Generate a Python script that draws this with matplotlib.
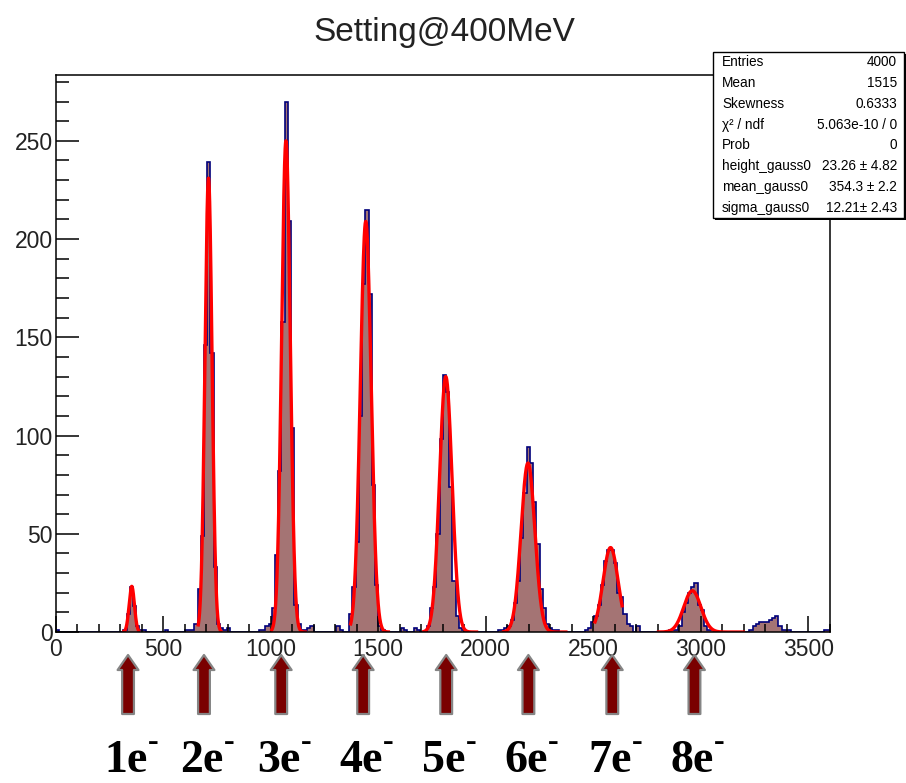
import numpy as np
import matplotlib.pyplot as plt
from matplotlib import transforms
from matplotlib.patches import Rectangle
from matplotlib.ticker import MultipleLocator

plt.rcParams['font.family'] = ['Liberation Sans', 'DejaVu Sans']

# --- histogram contents (15 ADC units per bin, 0..3600) ---
bin_width = 15
x_max = 3600

bkg_start = [0, 405, 510]
bkg_counts = [1, 1, 1]

p1_start, p1_counts = 315, [1, 9, 23, 13, 3, 1]
p2_start, p2_counts = 600, [1, 1, 1, 4, 22, 49, 146, 239, 142, 33, 4, 2, 1, 2]
p3_start, p3_counts = 945, [1, 1, 3, 4, 12, 39, 82, 158, 270, 209, 104, 14, 4, 1, 1, 2, 3]
p4_start, p4_counts = 1305, [3, 1, 0, 0, 9, 23, 46, 110, 177, 215, 172, 75, 24, 3, 1]
p5_start, p5_counts = 1605, [2, 1, 0, 0, 2, 1, 0, 0, 3, 12, 23, 50, 98, 131, 122, 74, 26, 8, 2, 1]
p6_start, p6_counts = 2055, [1, 1, 2, 3, 6, 15, 26, 48, 71, 94, 86, 66, 45, 22, 12, 4, 2, 1, 1]
p7_start, p7_counts = 2460, [1, 2, 5, 8, 14, 24, 36, 42, 42, 35, 20, 18, 9, 4, 3, 0, 3]
p8_start, p8_counts = 2850, [1, 1, 1, 3, 10, 15, 20, 23, 25, 14, 11, 3, 1, 1]
p9_start, p9_counts = 3225, [1, 3, 4, 5, 5, 5, 6, 7, 8, 3, 1, 1, 1]
p10_start, p10_counts = 3570, [1, 1]

# gaussian fits per photo-electron peak
fit_height = [23.26, 231, 250, 209, 130, 86, 43, 21]
fit_mean = [354.3, 711, 1071, 1442, 1814, 2196, 2580, 2960]
fit_sigma = [12.21, 16.5, 20, 25, 29, 32, 35, 40]
fit_lo = [310, 662, 1000, 1370, 1705, 2075, 2505, 2795]
fit_hi = [392, 775, 1168, 1555, 1965, 2380, 2635, 3205]

# arrow positions and labels under the axis
arrow_x = [337, 690, 1049, 1430, 1816, 2198, 2588, 2970]
labels = ['1', '2', '3', '4', '5', '6', '7', '8']

stat_names = ['Entries', 'Mean', 'Skewness', 'χ² / ndf', 'Prob',
              'height_gauss0', 'mean_gauss0', 'sigma_gauss0']
stat_values = ['4000', '1515', '0.6333', '5.063e-10 / 0', '0',
               '23.26 ± 4.82', '354.3 ± 2.2', '12.21± 2.43']

edges = np.arange(0, x_max + bin_width, bin_width)
counts = np.zeros(len(edges) - 1)
for s, c in zip(bkg_start, bkg_counts):
    counts[s // bin_width] += c
for s, seg in [(p1_start, p1_counts), (p2_start, p2_counts), (p3_start, p3_counts),
               (p4_start, p4_counts), (p5_start, p5_counts), (p6_start, p6_counts),
               (p7_start, p7_counts), (p8_start, p8_counts), (p9_start, p9_counts),
               (p10_start, p10_counts)]:
    i0 = s // bin_width
    counts[i0:i0 + len(seg)] += seg

fig = plt.figure(figsize=(9.06, 7.83), dpi=100)
ax = fig.add_axes([0.0613, 0.1928, 0.8548, 0.7114])

ax.stairs(counts, edges, fill=True, color='#a47474', lw=0)
ax.stairs(counts, edges, color='#00007a', lw=1.2)

for h, m, s, lo, hi in zip(fit_height, fit_mean, fit_sigma, fit_lo, fit_hi):
    xs = np.linspace(lo, hi, 300)
    ax.plot(xs, h * np.exp(-0.5 * ((xs - m) / s) ** 2), color='#ff0000', lw=2.4,
            solid_capstyle='butt')

ax.set_xlim(0, x_max)
ax.set_ylim(0, 283.5)
ax.xaxis.set_major_locator(MultipleLocator(500))
ax.xaxis.set_minor_locator(MultipleLocator(100))
ax.yaxis.set_major_locator(MultipleLocator(50))
ax.yaxis.set_minor_locator(MultipleLocator(10))
ax.tick_params(which='both', direction='in', top=False, right=False,
               labelsize=16.5, labelcolor='#222222', width=1.1)
ax.tick_params(axis='x', which='major', length=11.5, pad=4)
ax.tick_params(axis='x', which='minor', length=6)
ax.tick_params(axis='y', which='major', length=16.5, pad=2)
ax.tick_params(axis='y', which='minor', length=9)
for sp in ax.spines.values():
    sp.set_linewidth(1.1)

fig.text(0.491, 0.958, 'Setting@400MeV', ha='center', va='center',
         fontsize=24, color='#222222')

# stats box
bx0, by0, bx1, by1 = 713 / 906, 1 - 218 / 783, 904 / 906, 1 - 52 / 783
fig.add_artist(Rectangle((bx0 + 0.002, by0 - 0.003), bx1 - bx0, by1 - by0,
                         transform=fig.transFigure, facecolor='black', edgecolor='none', zorder=5))
fig.add_artist(Rectangle((bx0, by0), bx1 - bx0, by1 - by0, transform=fig.transFigure,
                         facecolor='white', edgecolor='black', lw=1.0, zorder=6))
row_h = (by1 - by0) / len(stat_names)
for i, (name, val) in enumerate(zip(stat_names, stat_values)):
    yy = by1 - row_h * (i + 0.5)
    fig.text(722 / 906, yy, name, ha='left', va='center', fontsize=9.8, zorder=7)
    fig.text(897 / 906, yy, val, ha='right', va='center', fontsize=9.8, zorder=7)

# arrows and photo-electron labels
trans = transforms.blended_transform_factory(ax.transData, fig.transFigure)
label_y = 1 - 772 / 783
for xa, lab in zip(arrow_x, labels):
    ax.annotate('', xy=(xa, 1 - 655 / 783), xytext=(xa, 1 - 714 / 783),
                xycoords=trans, textcoords=trans, annotation_clip=False,
                arrowprops=dict(arrowstyle='simple,head_length=1.08,head_width=1.5,tail_width=0.85',
                                mutation_scale=10, facecolor='#7a0000', edgecolor='#858585',
                                lw=1.6, shrinkA=0, shrinkB=0))
    ax.annotate(lab + 'e', xy=(xa, label_y), xycoords=trans, xytext=(-1.5, 0),
                textcoords='offset points', ha='center', va='baseline',
                fontsize=33, fontweight='bold', family='Liberation Serif',
                annotation_clip=False)
    # superscript minus of the electron
    ax.annotate('-', xy=(xa, label_y), xycoords=trans, xytext=(18, 15.5),
                textcoords='offset points', ha='center', va='baseline',
                fontsize=23, fontweight='bold', family='Liberation Serif',
                annotation_clip=False)

fig.savefig('out.png', dpi=100)
